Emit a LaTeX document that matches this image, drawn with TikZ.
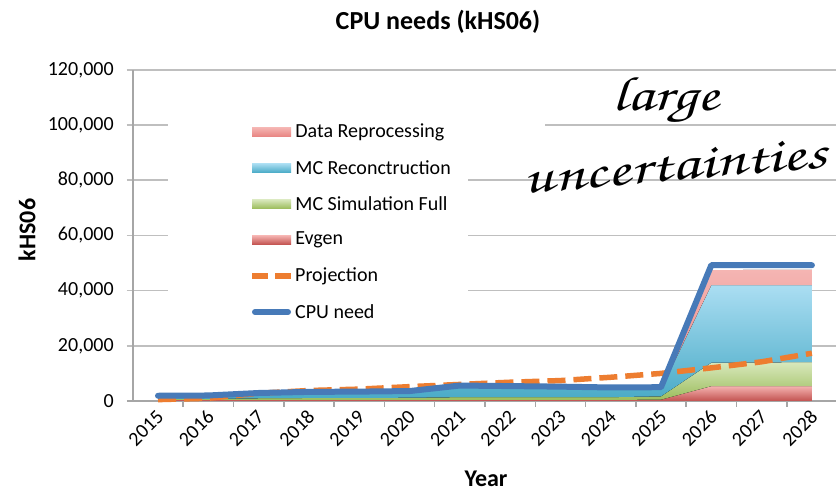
\documentclass[tikz,border=0pt]{standalone}
\usepackage[T1]{fontenc}
\usepackage{fontspec}
\setmainfont{Carlito}
\usetikzlibrary{positioning}
\definecolor{gridgray}{rgb}{0.75, 0.75, 0.75}
\definecolor{axisgray}{rgb}{0.65, 0.65, 0.65}
\definecolor{reprotop}{rgb}{0.96, 0.71, 0.70}
\definecolor{reprobot}{rgb}{0.91, 0.52, 0.51}
\definecolor{recotop}{rgb}{0.67, 0.87, 0.95}
\definecolor{recobot}{rgb}{0.29, 0.67, 0.78}
\definecolor{simtop}{rgb}{0.85, 0.91, 0.74}
\definecolor{simbot}{rgb}{0.61, 0.74, 0.36}
\definecolor{evgentop}{rgb}{0.96, 0.70, 0.69}
\definecolor{evgenbot}{rgb}{0.76, 0.32, 0.31}
\definecolor{projorange}{rgb}{0.93, 0.49, 0.19}
\definecolor{needblue}{rgb}{0.28, 0.48, 0.72}

\tikzset{
  gridline/.style={gridgray, line width=1.5pt},
  axisline/.style={axisgray, line width=1.5pt},
  ticklabel/.style={font=\fontsize{20}{20}\selectfont, inner sep=1pt},
  axistitle/.style={font=\fontsize{24}{24}\selectfont\bfseries},
  swatch/.style={minimum width=39pt, minimum height=9pt, inner sep=0pt},
  legendlabel/.style={font=\fontsize{20}{20}\selectfont, inner sep=0pt},
  projline/.style={projorange, line width=5.5pt, dash pattern=on 18pt off 8pt},
  needline/.style={needblue, line width=6pt, line cap=round, line join=round},
  handwritten/.style={font=\fontencoding{T1}\fontfamily{pzc}\fontshape{it}\fontsize{46}{46}\selectfont, inner sep=0pt},
}

\begin{document}
\begin{tikzpicture}[x=1pt, y=1pt]
  \useasboundingbox (0,0) rectangle (836,493);
  \clip (0,0) rectangle (836,493);
  \fill[white] (0,0) rectangle (836,493);

  \node[font=\fontsize{26}{26}\selectfont\bfseries] (charttitle) at (438,471) {CPU needs (kHS06)};

  \begin{scope}[shift={(158pt,92pt)}, x=50.3pt, y=2.76pt]
    \foreach \v in {20,40,...,120}
      \draw[gridline] (-0.62,\v) -- (13.6,\v);
    \draw[axisline] (-0.62,0) -- (13.6,0);
    \foreach \k in {0,...,13}
      \draw[axisline] (\k+0.5,0) -- ++(0,-2);
    \draw[axisline] (-0.5,0) -- (-0.5,120);

    \foreach \v/\lab in {0/0, 20/{20,000}, 40/{40,000}, 60/{60,000}, 80/{80,000}, 100/{100,000}, 120/{120,000}}
      \node[ticklabel, anchor=east, xshift=-18pt] (ylab\v) at (-0.5,\v) {\lab};
    \foreach \yr [count=\i from 0] in {2015,...,2028}
      \node[ticklabel, xshift=3pt, yshift=-12pt, rotate=45, anchor=east] (xlab\yr) at (\i,0) {\yr};

    \fill[top color=evgentop, bottom color=evgenbot]
      plot coordinates {(0,0.4) (1,0.4) (2,0.4) (3,0.4) (4,0.4) (5,0.4) (6,0.4) (7,0.4) (8,0.4) (9,0.4) (10,0.5) (11,5.4) (12,5.4) (13,5.4)}
      -- (13,0) -- (0,0) -- cycle;
    \fill[top color=simtop, bottom color=simbot]
      plot coordinates {(0,0.8) (1,0.8) (2,1.0) (3,1.1) (4,1.1) (5,1.2) (6,1.4) (7,1.4) (8,1.4) (9,1.4) (10,1.7) (11,13.9) (12,14.0) (13,14.1)}
      -- plot coordinates {(13,5.4) (12,5.4) (11,5.4) (10,0.5) (9,0.4) (8,0.4) (7,0.4) (6,0.4) (5,0.4) (4,0.4) (3,0.4) (2,0.4) (1,0.4) (0,0.4)} -- cycle;
    \fill[top color=recotop, bottom color=recobot]
      plot coordinates {(0,1.6) (1,1.7) (2,2.5) (3,2.9) (4,3.0) (5,3.2) (6,5.0) (7,4.9) (8,4.7) (9,4.5) (10,4.2) (11,42.0) (12,42.0) (13,42.0)}
      -- plot coordinates {(13,14.1) (12,14.0) (11,13.9) (10,1.7) (9,1.4) (8,1.4) (7,1.4) (6,1.4) (5,1.2) (4,1.1) (3,1.1) (2,1.0) (1,0.8) (0,0.8)} -- cycle;
    \fill[top color=reprotop, bottom color=reprobot]
      plot coordinates {(0,1.8) (1,1.9) (2,2.8) (3,3.2) (4,3.3) (5,3.5) (6,5.4) (7,5.2) (8,5.0) (9,4.8) (10,4.8) (11,47.4) (12,47.5) (13,47.5)}
      -- plot coordinates {(13,42.0) (12,42.0) (11,42.0) (10,4.2) (9,4.5) (8,4.7) (7,4.9) (6,5.0) (5,3.2) (4,3.0) (3,2.9) (2,2.5) (1,1.7) (0,1.6)} -- cycle;

    \draw[projline] plot coordinates {(0,0.5) (1,1.0) (2,2.8) (3,3.8) (4,4.3) (5,5.2) (6,6.0) (7,6.8) (8,7.4) (9,8.6) (10,10.0) (11,12.0) (12,14.2) (13,17.3)};
    \draw[needline] plot coordinates {(0,1.9) (1,2.0) (2,2.9) (3,3.3) (4,3.4) (5,3.6) (6,5.6) (7,5.4) (8,5.2) (9,4.9) (10,5.0) (11,49.2) (12,49.2) (13,49.2)};
  \end{scope}

  \node[axistitle, rotate=90] (ytitle) at (27,263) {kHS06};
  \node[axistitle] (xtitle) at (486,14) {Year};

  \fill[white] (168,163) rectangle (468,393);
  \fill[white] (468,355) rectangle (545,380);

  \node[swatch, top color=reprotop, bottom color=reprobot] (swrepro) at (271.5,361) {};
  \node[legendlabel, right=4pt of swrepro] (txtrepro) {Data Reprocessing};
  \node[swatch, top color=recotop, bottom color=recobot] (swreco) at (271.5,325) {};
  \node[legendlabel, right=4pt of swreco] (txtreco) {MC Reconctruction};
  \node[swatch, top color=simtop, bottom color=simbot] (swsim) at (271.5,289) {};
  \node[legendlabel, right=4pt of swsim] (txtsim) {MC Simulation Full};
  \node[swatch, top color=evgentop, bottom color=evgenbot] (swevgen) at (271.5,253) {};
  \node[legendlabel, right=4pt of swevgen] (txtevgen) {Evgen};
  \coordinate (swproj) at (271.5,217);
  \draw[projline, dash pattern=on 16pt off 7pt] ([xshift=-19.5pt]swproj) -- ([xshift=19.5pt]swproj);
  \node[legendlabel, right=23.5pt of swproj] (txtproj) {Projection};
  \coordinate (swneed) at (271.5,181);
  \draw[needline] ([xshift=-16.5pt]swneed) -- ([xshift=16.5pt]swneed);
  \node[legendlabel, right=23.5pt of swneed] (txtneed) {CPU need};

  \node[handwritten] (notelarge) at (666,392) {\scalebox{1.35}[1.05]{large}};
  \node[handwritten, rotate=5] (noteunc) at (675,327) {\scalebox{1.45}[1.05]{uncertainties}};
\end{tikzpicture}
\end{document}
